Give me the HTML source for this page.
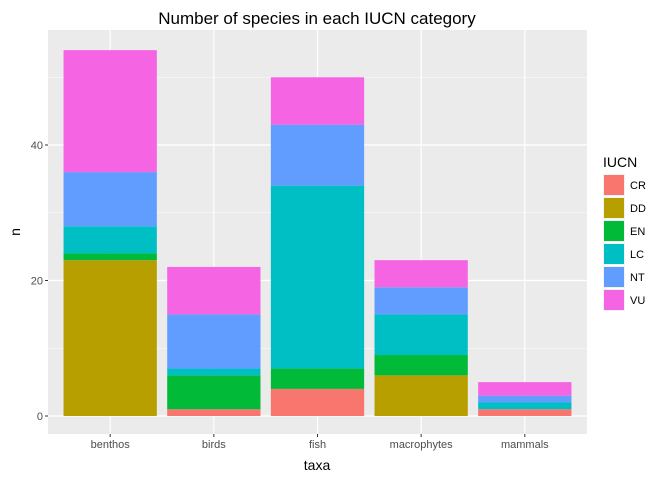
<!DOCTYPE html>
<html><head><meta charset="utf-8"><style>body{margin:0;background:#fff}svg{font-family:"Liberation Sans",sans-serif}</style></head>
<body>
<svg id="c" width="672" height="480"></svg>
<script>
const categories=["benthos","birds","fish","macrophytes","mammals"];
const levels=["CR","DD","EN","LC","NT","VU"];
const colors=["#F8766D","#B79F00","#00BA38","#00BFC4","#619CFF","#F564E3"];
const CR=[0,1,4,0,1];
const DD=[23,0,0,6,0];
const EN=[1,5,3,3,0];
const LC=[4,1,27,6,1];
const NT=[8,8,9,4,1];
const VU=[18,7,7,4,2];
const yTicks=[0,20,40];
const series=[CR,DD,EN,LC,NT,VU];
const NS="http://www.w3.org/2000/svg";
const svg=document.getElementById('c');
function mk(t,a,p){const e=document.createElementNS(NS,t);for(const k in a)e.setAttribute(k,a[k]);(p||svg).appendChild(e);return e;}
const L=48,R=587,T=30,B=434;
const step=(R-L)/(categories.length+0.2);
const xc=i=>L+step*(0.6+i);
const y=v=>416-v*6.775;
const bg=mk('rect',{x:L,y:T,width:R-L,height:B-T,fill:'#EBEBEB'});

for(let i=0;i<yTicks.length;i++){const m=yTicks[i]+10;if(y(m)>T){const g=mk('line',{x1:L,x2:R,y1:y(m),y2:y(m),stroke:'#fff','stroke-width':0.6});}}
yTicks.forEach(t=>{const g=mk('line',{x1:L,x2:R,y1:y(t),y2:y(t),stroke:'#fff','stroke-width':1.2});
mk('line',{x1:L-3,x2:L,y1:y(t),y2:y(t),stroke:'#333'});
const tx=mk('text',{x:L-5,y:y(t)+4,'text-anchor':'end','font-size':11,fill:'#4D4D4D'});tx.textContent=t;});
categories.forEach((c,i)=>{const g=mk('line',{x1:xc(i),x2:xc(i),y1:T,y2:B,stroke:'#fff','stroke-width':1.2});});
categories.forEach((c,i)=>{let base=0;const w=step*0.9;
series.forEach((s,j)=>{if(s[i]>0){const r=mk('rect',{x:xc(i)-w/2,y:y(base+s[i]),width:w,height:y(base)-y(base+s[i]),fill:colors[j]});}base+=s[i];});
mk('line',{x1:xc(i),x2:xc(i),y1:B,y2:B+3,stroke:'#333'});
const tx=mk('text',{x:xc(i),y:B+14,'text-anchor':'middle','font-size':11,fill:'#4D4D4D'});tx.textContent=c;});
let t=mk('text',{x:317,y:24,'text-anchor':'middle','font-size':17,fill:'#000'});t.textContent='Number of species in each IUCN category';
t=mk('text',{x:317,y:470,'text-anchor':'middle','font-size':14,fill:'#000'});t.textContent='taxa';
t=mk('text',{x:20,y:232,'text-anchor':'middle','font-size':14,fill:'#000',transform:'rotate(-90 20 232)'});t.textContent='n';
t=mk('text',{x:603,y:167,'font-size':14,fill:'#000'});t.textContent='IUCN';
levels.forEach((l,j)=>{const yy=174+j*23;const r=mk('rect',{x:603,y:yy,width:22,height:22,fill:'#F2F2F2'});
const k=mk('rect',{x:604,y:yy+1,width:20,height:20,fill:colors[j]});
const tx=mk('text',{x:630,y:yy+15,'font-size':11,fill:'#000'});tx.textContent=l;});
</script>
</body></html>
